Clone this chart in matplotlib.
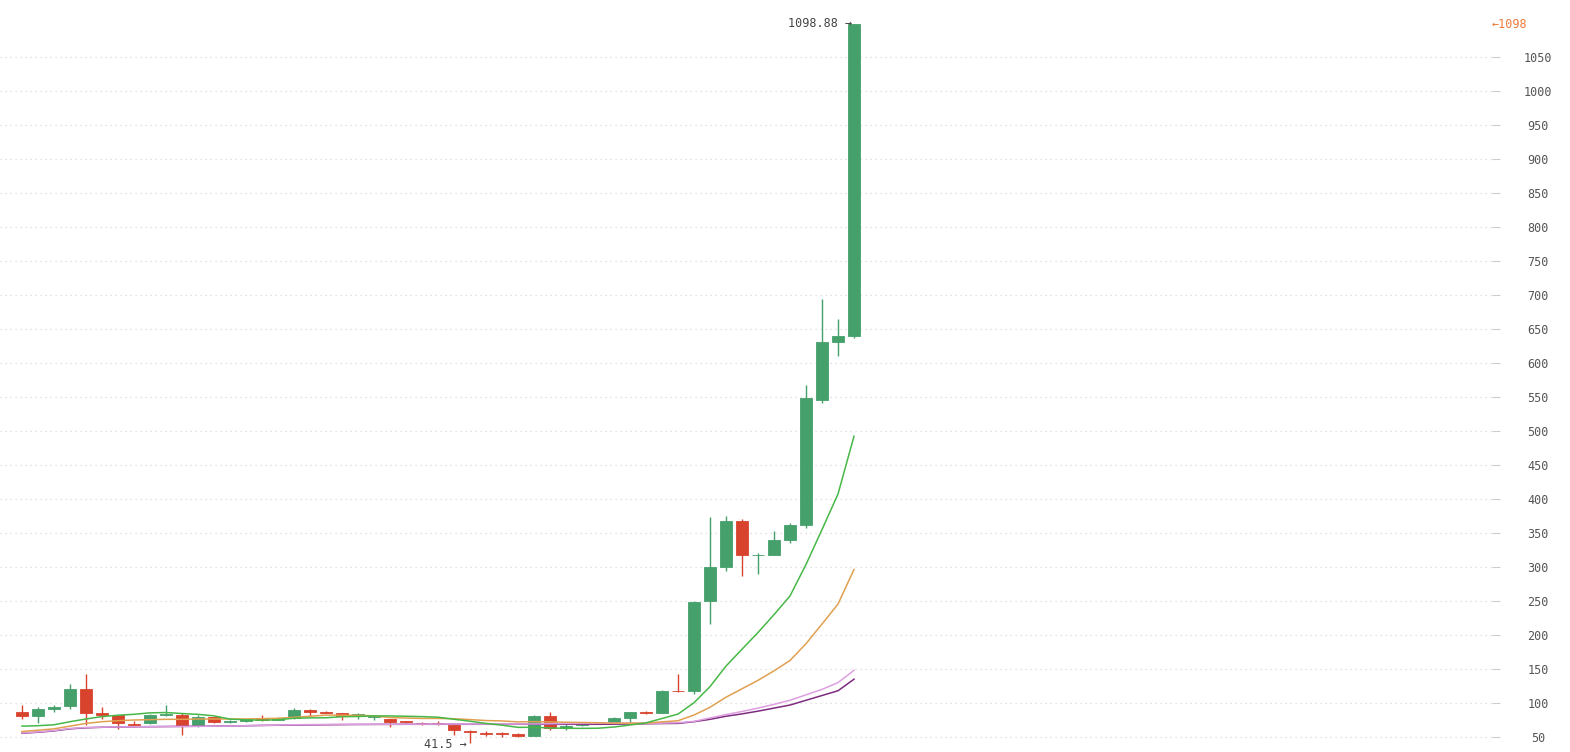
import matplotlib
matplotlib.use("Agg")
import matplotlib.pyplot as plt
import matplotlib.transforms as mtransforms
import numpy as np

# OHLC, one entry per candle
opens = [87, 81, 91, 95, 121, 86, 82, 69, 70, 82, 82, 66, 79, 72, 73, 77, 75, 78, 90, 87,
         85, 83, 80, 76.5, 73, 71, 71, 67, 59.5, 56, 55.5, 54, 52, 81, 63, 67, 70, 72.5, 78, 87,
         86, 118, 117, 250, 300, 368, 317, 318, 340, 362, 546, 631, 640]
highs = [97, 94, 97, 128, 143, 94, 83, 74, 84, 97, 85, 82, 80, 75, 77, 82, 79, 92, 90.5, 88,
         86, 85.5, 83, 77, 74, 72, 73, 69.6, 60, 59, 58, 56, 82.5, 87, 68.5, 71.5, 72.5, 79, 87, 88.5,
         118.5, 143, 250, 374, 375, 370, 321, 353, 365, 567, 694, 665, 1098.88]
lows = [76, 71, 87, 91, 68, 76, 62, 64, 69, 81, 53, 64, 70, 70, 72, 73.5, 74.5, 76, 81, 85,
        75.5, 77, 75.5, 64, 70, 67, 67, 53, 41.5, 52, 50, 50, 51, 60, 61, 66, 69, 71, 71, 84.5,
        85.5, 116, 113, 216, 294, 287, 290, 317, 336, 358, 541, 611, 637]
closes = [81, 91, 94, 121, 86, 83, 70, 68, 82, 84, 66, 79, 72, 72.5, 76.5, 75.5, 78.5, 90, 87, 86,
          80.5, 83.5, 80.2, 72.5, 71.5, 70, 70, 60, 57.5, 54.5, 54, 51.5, 81, 63, 66.6, 69, 71.5, 78, 87, 86,
          118, 117, 248, 300, 368, 317, 318, 340, 362, 548.5, 631, 640, 1098]

# moving average lines, read per candle
ma_green = [66, 66.6, 68, 72.5, 76.5, 80, 82, 83.4, 85.5, 86.0, 84.5, 83.3, 81.1, 76.3, 75.3, 74.6, 75.4,
            77.6, 78.1, 78.3, 79.8, 80.2, 81.0, 81.0, 80.5, 80.0, 79.1, 76.1, 73.2, 70.0, 67.4, 64.2,
            64.3, 63.3, 62.8, 62.7, 62.9, 64.7, 67.6, 70.8, 77.2, 83.7, 100.4, 124.1, 154.3, 179.1,
            203.7, 229.9, 257.4, 303.7, 355.0, 407.3, 492.3]
ma_orange = [58, 60, 62, 66, 70, 72.5, 74, 75, 75.5, 76, 76, 76.5, 76.5, 76.5, 76.5, 77, 77.5, 79, 80.5,
             82.2, 82.1, 81.8, 81.1, 78.6, 77.9, 77.3, 77.3, 76.9, 75.6, 74.2, 73.6, 72.2, 72.6, 72.2,
             71.7, 71.3, 71.0, 70.4, 70.4, 70.4, 72.3, 73.9, 82.3, 93.7, 108.5, 120.9, 133.3, 147.3,
             162.5, 187.2, 216.1, 245.5, 296.3]
ma_pink = [56, 57.5, 59.5, 62.5, 64, 64.5, 64.8, 65, 65.2, 65.4, 65.5, 65.7, 65.9, 66.2, 66.6, 67.1, 67.5,
           68, 68.3, 68.5, 68.7, 68.7, 68.8, 68.8, 68.9, 68.9, 69, 69, 69, 69, 69, 69, 69.2, 69.5,
           69.8, 70, 70.2, 70.3, 70.3, 70.3, 70.4, 71, 73, 78, 83, 87.5, 92.5, 98, 104, 112, 120, 130, 148]
ma_purple = [55.5, 57, 59, 62, 63.5, 64.3, 64.6, 65, 65.2, 65.4, 65.6, 65.8, 66, 66.3, 66.6, 67, 67.3,
             67.6, 67.8, 68, 68.2, 68.4, 68.5, 68.6, 68.7, 68.7, 68.7, 68.7, 68.7, 68.7, 68.7, 68.7,
             68.7, 68.7, 68.7, 68.7, 68.7, 68.9, 69.2, 69.5, 69.8, 70, 72.5, 76, 80.5, 84, 88, 92.5,
             97, 104, 111, 118, 135]

y_ticks = list(range(50, 1051, 50))
max_label = "1098.88 \u2192"
min_label = "41.5 \u2192"
last_label = "\u20901098"

UP = "#45a06b"
DOWN = "#d8432d"
MONO = "DejaVu Sans Mono"

fig = plt.figure(figsize=(15.7, 7.52), dpi=100)
ax = fig.add_axes([0, 0, 1492 / 1570, 1])

x = np.arange(len(closes))
o = np.array(opens)
c = np.array(closes)
up = c >= o
colors = np.where(up, UP, DOWN)

# wicks
ax.vlines(x, lows, highs, colors=colors, linewidth=1.0, zorder=3)
# bodies
bottoms = np.minimum(o, c)
heights = np.maximum(np.abs(c - o), 0.8)
ax.bar(x, heights, bottom=bottoms, width=0.78, color=colors, edgecolor=colors,
       linewidth=0.6, zorder=4)

# MA lines
ax.plot(x, ma_purple, color="#7d2b7f", lw=1.1, zorder=5)
ax.plot(x, ma_pink, color="#dd9fe0", lw=1.1, zorder=5)
ax.plot(x, ma_orange, color="#e0a050", lw=1.1, zorder=5)
ax.plot(x, ma_green, color="#47b847", lw=1.1, zorder=5)

ax.set_xlim(-22 / 16, -22 / 16 + 1492 / 16)
ax.set_ylim(50 - 15 / 0.68, 50 + 737 / 0.68)

ax.set_yticks(y_ticks)
ax.yaxis.tick_right()
ax.tick_params(axis="y", length=6, width=0.8, color="#cccccc", pad=27,
               labelsize=8.5, labelcolor="#555555")
for lab in ax.get_yticklabels():
    lab.set_horizontalalignment("center")
    lab.set_fontfamily(MONO)
ax.set_xticks([])
ax.grid(axis="y", color="#d9d9d9", linestyle=(0, (1, 3)), linewidth=0.9)
for s in ax.spines.values():
    s.set_visible(False)

# high / low annotations
hi_i = int(np.argmax(highs))
lo_i = int(np.argmin(lows))
ax.text(hi_i - 0.12, highs[hi_i], max_label, ha="right", va="center",
        fontsize=8.5, family=MONO, color="#444444", zorder=6)
ax.text(lo_i - 0.2, lows[lo_i] - 2, min_label, ha="right", va="center",
        fontsize=8.5, family=MONO, color="#444444", zorder=6)

# last price marker at the right
trans = mtransforms.blended_transform_factory(ax.transAxes, ax.transData)
ax.text(1.0, closes[-1], "\u2190" + "1098", transform=trans, ha="left", va="center",
        fontsize=8.5, family=MONO, color="#ee7a3a", clip_on=False)

fig.savefig("out.png", dpi=100)
